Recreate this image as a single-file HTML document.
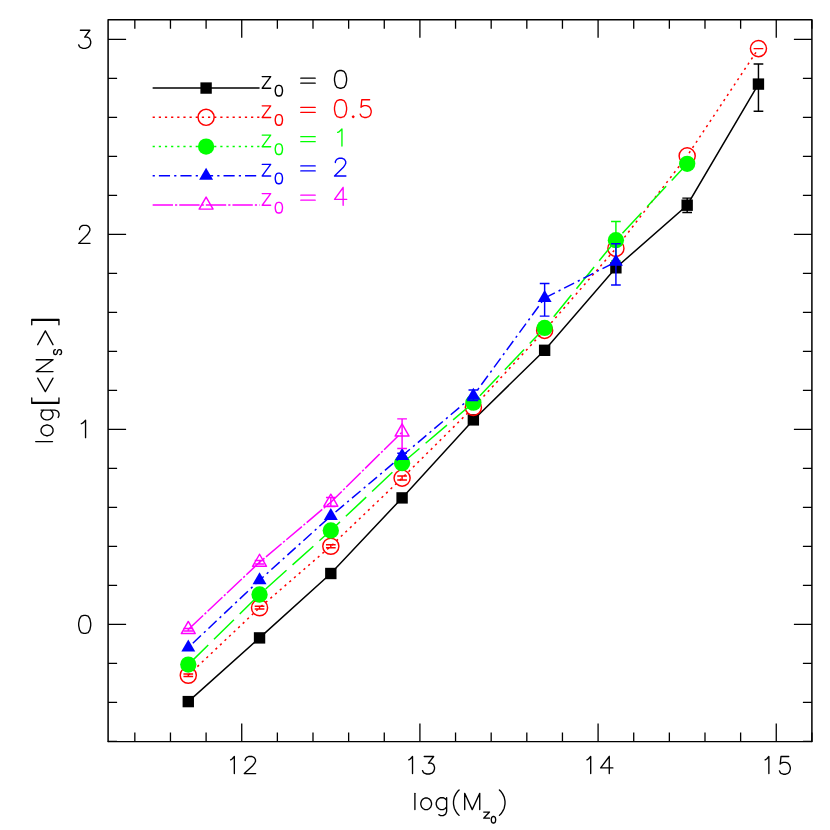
<!DOCTYPE html>
<html><head><meta charset="utf-8"><title>chart</title>
<style>html,body{margin:0;padding:0;background:#fff;font-family:"Liberation Sans",sans-serif}svg{display:block}</style>
</head><body>
<svg width="830" height="830" viewBox="0 0 830 830">
<rect width="830" height="830" fill="#fff"/>
<path d="M108.1 741.4V19.8H811.9V741.4" fill="none" stroke="#000" stroke-width="1.5" stroke-linejoin="round" stroke-linecap="round"/>
<path d="M108.1 741.5H811.9" fill="none" stroke="#000" stroke-width="1.25" stroke-linecap="round"/>
<path d="M134.83 741.4v-9 M134.83 19.8v9M170.46 741.4v-9 M170.46 19.8v9M206.1 741.4v-9 M206.1 19.8v9M241.73 741.4v-18 M241.73 19.8v18M277.37 741.4v-9 M277.37 19.8v9M313 741.4v-9 M313 19.8v9M348.64 741.4v-9 M348.64 19.8v9M384.27 741.4v-9 M384.27 19.8v9M419.91 741.4v-18 M419.91 19.8v18M455.55 741.4v-9 M455.55 19.8v9M491.18 741.4v-9 M491.18 19.8v9M526.82 741.4v-9 M526.82 19.8v9M562.45 741.4v-9 M562.45 19.8v9M598.09 741.4v-18 M598.09 19.8v18M633.72 741.4v-9 M633.72 19.8v9M669.36 741.4v-9 M669.36 19.8v9M704.99 741.4v-9 M704.99 19.8v9M740.63 741.4v-9 M740.63 19.8v9M776.26 741.4v-18 M776.26 19.8v18M811.9 741.4v-9 M811.9 19.8v9M108.1 741.4h9 M811.9 741.4h-9M108.1 702.39h9 M811.9 702.39h-9M108.1 663.39h9 M811.9 663.39h-9M108.1 624.38h18 M811.9 624.38h-18M108.1 585.38h9 M811.9 585.38h-9M108.1 546.37h9 M811.9 546.37h-9M108.1 507.37h9 M811.9 507.37h-9M108.1 468.36h9 M811.9 468.36h-9M108.1 429.36h18 M811.9 429.36h-18M108.1 390.35h9 M811.9 390.35h-9M108.1 351.35h9 M811.9 351.35h-9M108.1 312.34h9 M811.9 312.34h-9M108.1 273.34h9 M811.9 273.34h-9M108.1 234.33h18 M811.9 234.33h-18M108.1 195.32h9 M811.9 195.32h-9M108.1 156.32h9 M811.9 156.32h-9M108.1 117.31h9 M811.9 117.31h-9M108.1 78.31h9 M811.9 78.31h-9M108.1 39.3h18 M811.9 39.3h-18" stroke="#000" stroke-width="1.3" fill="none"/>
<path d="M230.64 759.87 L232.12 759.03 L234.34 756.5 L234.34 773.48" fill="none" stroke="#000" stroke-width="1.35" stroke-linecap="round" stroke-linejoin="round"/>
<path d="M245.17 760.58 L245.17 759.76 L246.03 758.13 L246.89 757.32 L248.61 756.51 L252.05 756.51 L253.77 757.32 L254.63 758.13 L255.49 759.76 L255.49 761.39 L254.63 763.02 L252.91 765.46 L244.31 773.6 L255.66 773.6" fill="none" stroke="#000" stroke-width="1.35" stroke-linecap="round" stroke-linejoin="round"/>
<path d="M408.82 759.87 L410.3 759.03 L412.52 756.5 L412.52 773.48" fill="none" stroke="#000" stroke-width="1.35" stroke-linecap="round" stroke-linejoin="round"/>
<path d="M424.24 756.51 L433.64 756.51 L428.51 763.17 L431.08 763.17 L432.79 764 L433.64 764.84 L434.5 767.34 L434.5 769 L433.64 771.5 L431.93 773.17 L429.37 774 L426.8 774 L424.24 773.17 L423.38 772.33 L422.53 770.67" fill="none" stroke="#000" stroke-width="1.35" stroke-linecap="round" stroke-linejoin="round"/>
<path d="M587 759.87 L588.48 759.03 L590.7 756.5 L590.7 773.48" fill="none" stroke="#000" stroke-width="1.35" stroke-linecap="round" stroke-linejoin="round"/>
<path d="M609.27 756.51 L600.67 767.9 L612.88 767.9M609.27 756.51 L609.27 773.6" fill="none" stroke="#000" stroke-width="1.35" stroke-linecap="round" stroke-linejoin="round"/>
<path d="M765.17 759.87 L766.65 759.03 L768.87 756.5 L768.87 773.48" fill="none" stroke="#000" stroke-width="1.35" stroke-linecap="round" stroke-linejoin="round"/>
<path d="M788.74 756.5 L780.99 756.5 L780.21 764.08 L780.99 763.24 L783.31 762.4 L785.64 762.4 L787.96 763.24 L789.51 764.93 L790.29 767.46 L790.29 769.14 L789.51 771.67 L787.96 773.36 L785.64 774.2 L783.31 774.2 L780.99 773.36 L780.21 772.51 L779.44 770.83" fill="none" stroke="#000" stroke-width="1.35" stroke-linecap="round" stroke-linejoin="round"/>
<path d="M83.84 615.35 L81.26 616.21 L79.54 618.79 L78.68 623.09 L78.68 625.67 L79.54 629.97 L81.26 632.55 L83.84 633.41 L85.56 633.41 L88.14 632.55 L89.86 629.97 L90.72 625.67 L90.72 623.09 L89.86 618.79 L88.14 616.21 L85.56 615.35 L83.84 615.35" fill="none" stroke="#000" stroke-width="1.35" stroke-linecap="round" stroke-linejoin="round"/>
<path d="M81.26 423.77 L82.98 422.91 L85.56 420.33 L85.56 437.66" fill="none" stroke="#000" stroke-width="1.35" stroke-linecap="round" stroke-linejoin="round"/>
<path d="M79.54 229.6 L79.54 228.74 L80.4 227.02 L81.26 226.16 L82.98 225.3 L86.42 225.3 L88.14 226.16 L89 227.02 L89.86 228.74 L89.86 230.46 L89 232.18 L87.28 234.76 L78.68 243.36 L90.03 243.36" fill="none" stroke="#000" stroke-width="1.35" stroke-linecap="round" stroke-linejoin="round"/>
<path d="M80.4 30.27 L89.86 30.27 L84.7 37.15 L87.28 37.15 L89 38.01 L89.86 38.87 L90.72 41.45 L90.72 43.17 L89.86 45.75 L88.14 47.47 L85.56 48.33 L82.98 48.33 L80.4 47.47 L79.54 46.61 L78.68 44.89" fill="none" stroke="#000" stroke-width="1.35" stroke-linecap="round" stroke-linejoin="round"/>
<polyline points="188.28,701.6 259.55,637.9 330.82,573.5 402.09,497.9 473.36,419.9 544.63,350.3 615.91,267.8 687.18,205.2 758.45,84.1" fill="none" stroke="#000" stroke-width="1.5"/>
<rect x="182.59" y="695.91" width="11.38" height="11.38" fill="#000"/>
<rect x="253.86" y="632.21" width="11.38" height="11.38" fill="#000"/>
<rect x="325.13" y="567.81" width="11.38" height="11.38" fill="#000"/>
<rect x="396.4" y="492.21" width="11.38" height="11.38" fill="#000"/>
<rect x="467.67" y="414.21" width="11.38" height="11.38" fill="#000"/>
<rect x="538.94" y="344.61" width="11.38" height="11.38" fill="#000"/>
<rect x="610.21" y="262.11" width="11.38" height="11.38" fill="#000"/>
<rect x="681.48" y="199.51" width="11.38" height="11.38" fill="#000"/>
<rect x="752.75" y="78.41" width="11.38" height="11.38" fill="#000"/>
<path d="M687.18 198.1V212.5 M682.33 198.1h9.7 M682.33 212.5h9.7M758.45 64V111.2 M753.6 64h9.7 M753.6 111.2h9.7" fill="none" stroke="#000" stroke-width="1.45"/>
<polyline points="188.28,675.2 259.55,607.7 330.82,546.2 402.09,478.1 473.36,407.4 544.63,330.4 615.91,248.4 687.18,155.9 758.45,48.6" fill="none" stroke="#f00" stroke-width="1.5" stroke-dasharray="2.2 4.05"/>
<circle cx="188.28" cy="675.2" r="8.05" fill="none" stroke="#f00" stroke-width="1.45"/>
<circle cx="259.55" cy="607.7" r="8.05" fill="none" stroke="#f00" stroke-width="1.45"/>
<circle cx="330.82" cy="546.2" r="8.05" fill="none" stroke="#f00" stroke-width="1.45"/>
<circle cx="402.09" cy="478.1" r="8.05" fill="none" stroke="#f00" stroke-width="1.45"/>
<circle cx="473.36" cy="407.4" r="8.05" fill="none" stroke="#f00" stroke-width="1.45"/>
<circle cx="544.63" cy="330.4" r="8.05" fill="none" stroke="#f00" stroke-width="1.45"/>
<circle cx="615.91" cy="248.4" r="8.05" fill="none" stroke="#f00" stroke-width="1.45"/>
<circle cx="687.18" cy="155.9" r="8.05" fill="none" stroke="#f00" stroke-width="1.45"/>
<circle cx="758.45" cy="48.6" r="8.05" fill="none" stroke="#f00" stroke-width="1.45"/>
<path d="M188.28 673.9V676.5 M183.43 673.9h9.7 M183.43 676.5h9.7M259.55 606.3V609 M254.7 606.3h9.7 M254.7 609h9.7M330.82 544.8V547.8 M325.97 544.8h9.7 M325.97 547.8h9.7M402.09 475.9V480 M397.24 475.9h9.7 M397.24 480h9.7M758.45 48.6V48.6 M753.6 48.6h9.7 M753.6 48.6h9.7" fill="none" stroke="#f00" stroke-width="1.45"/>
<polyline points="188.28,664.6 259.55,594.5 330.82,530.5 402.09,463.2 473.36,402.7 544.63,327.9 615.91,240.2 687.18,163.8" fill="none" stroke="#0f0" stroke-width="1.5" stroke-dasharray="28.0 8.07"/>
<circle cx="188.28" cy="664.6" r="8.15" fill="#0f0"/>
<circle cx="259.55" cy="594.5" r="8.15" fill="#0f0"/>
<circle cx="330.82" cy="530.5" r="8.15" fill="#0f0"/>
<circle cx="402.09" cy="463.2" r="8.15" fill="#0f0"/>
<circle cx="473.36" cy="402.7" r="8.15" fill="#0f0"/>
<circle cx="544.63" cy="327.9" r="8.15" fill="#0f0"/>
<circle cx="615.91" cy="240.2" r="8.15" fill="#0f0"/>
<circle cx="687.18" cy="163.8" r="8.15" fill="#0f0"/>
<path d="M615.91 221.4V261 M611.06 221.4h9.7 M611.06 261h9.7" fill="none" stroke="#0f0" stroke-width="1.45"/>
<polyline points="188.28,647.5 259.55,580.2 330.82,516 402.09,455.9 473.36,395.7 544.63,298.1 615.91,261.8" fill="none" stroke="#00f" stroke-width="1.5" stroke-dasharray="2.2 4.05 11.15 4.14"/>
<polygon points="188.28,639.45 181.31,651.52 195.25,651.52" fill="#00f"/>
<polygon points="259.55,572.15 252.58,584.23 266.52,584.23" fill="#00f"/>
<polygon points="330.82,507.95 323.85,520.02 337.79,520.02" fill="#00f"/>
<polygon points="402.09,447.85 395.12,459.92 409.06,459.92" fill="#00f"/>
<polygon points="473.36,387.65 466.39,399.72 480.33,399.72" fill="#00f"/>
<polygon points="544.63,290.05 537.66,302.12 551.61,302.12" fill="#00f"/>
<polygon points="615.91,253.75 608.93,265.82 622.88,265.82" fill="#00f"/>
<path d="M402.09 453.2V458.6 M397.24 453.2h9.7 M397.24 458.6h9.7M473.36 390V400.4 M468.51 390h9.7 M468.51 400.4h9.7M544.63 283.4V316.1 M539.78 283.4h9.7 M539.78 316.1h9.7M615.91 243.8V285 M611.06 243.8h9.7 M611.06 285h9.7" fill="none" stroke="#00f" stroke-width="1.45"/>
<polyline points="188.28,629.5 259.55,562.3 330.82,502.2 402.09,432" fill="none" stroke="#f0f" stroke-width="1.5" stroke-dasharray="20.35 2.05 2.2 2.0"/>
<polygon points="188.28,621.45 181.31,633.52 195.25,633.52" fill="none" stroke="#f0f" stroke-width="1.45" stroke-linejoin="round"/>
<polygon points="259.55,554.25 252.58,566.32 266.52,566.32" fill="none" stroke="#f0f" stroke-width="1.45" stroke-linejoin="round"/>
<polygon points="330.82,494.15 323.85,506.22 337.79,506.22" fill="none" stroke="#f0f" stroke-width="1.45" stroke-linejoin="round"/>
<polygon points="402.09,423.95 395.12,436.02 409.06,436.02" fill="none" stroke="#f0f" stroke-width="1.45" stroke-linejoin="round"/>
<path d="M188.28 628.4V631 M183.43 628.4h9.7 M183.43 631h9.7M259.55 560.5V564 M254.7 560.5h9.7 M254.7 564h9.7M330.82 497.5V506.5 M325.97 497.5h9.7 M325.97 506.5h9.7M402.09 418.85V448.4 M397.24 418.85h9.7 M397.24 448.4h9.7" fill="none" stroke="#f0f" stroke-width="1.45"/>
<path d="M152.64 88.06H259.55" fill="none" stroke="#000" stroke-width="1.5"/>
<rect x="200.41" y="82.37" width="11.38" height="11.38" fill="#000"/>
<path d="M270.67 76.59 L262.2 88.21M262.2 76.59 L270.67 76.59M262.2 88.21 L270.67 88.21" fill="none" stroke="#000" stroke-width="1.35" stroke-linecap="round" stroke-linejoin="round"/>
<path d="M278.35 85.36 L276.8 85.87 L275.77 87.39 L275.25 89.93 L275.25 91.45 L275.77 93.98 L276.8 95.5 L278.35 96.01 L279.38 96.01 L280.93 95.5 L281.96 93.98 L282.47 91.45 L282.47 89.93 L281.96 87.39 L280.93 85.87 L279.38 85.36 L278.35 85.36" fill="none" stroke="#000" stroke-width="1.4" stroke-linecap="round" stroke-linejoin="round"/>
<path d="M300.8 78.13 L315.2 78.13M300.8 83.17 L315.2 83.17" fill="none" stroke="#000" stroke-width="1.35" stroke-linecap="round" stroke-linejoin="round"/>
<path d="M339.68 70.51 L337.09 71.35 L335.36 73.88 L334.5 78.09 L334.5 80.62 L335.36 84.84 L337.09 87.37 L339.68 88.21 L341.41 88.21 L344 87.37 L345.73 84.84 L346.6 80.62 L346.6 78.09 L345.73 73.88 L344 71.35 L341.41 70.51 L339.68 70.51" fill="none" stroke="#000" stroke-width="1.35" stroke-linecap="round" stroke-linejoin="round"/>
<path d="M152.64 117.31H259.55" fill="none" stroke="#f00" stroke-width="1.5" stroke-dasharray="2.2 3.95"/>
<circle cx="206.1" cy="117.31" r="8.05" fill="none" stroke="#f00" stroke-width="1.45"/>
<path d="M270.67 105.84 L262.2 117.46M262.2 105.84 L270.67 105.84M262.2 117.46 L270.67 117.46" fill="none" stroke="#f00" stroke-width="1.35" stroke-linecap="round" stroke-linejoin="round"/>
<path d="M278.35 114.62 L276.8 115.12 L275.77 116.64 L275.25 119.18 L275.25 120.7 L275.77 123.24 L276.8 124.76 L278.35 125.26 L279.38 125.26 L280.93 124.76 L281.96 123.24 L282.47 120.7 L282.47 119.18 L281.96 116.64 L280.93 115.12 L279.38 114.62 L278.35 114.62" fill="none" stroke="#f00" stroke-width="1.4" stroke-linecap="round" stroke-linejoin="round"/>
<path d="M300.8 107.38 L315.2 107.38M300.8 112.42 L315.2 112.42" fill="none" stroke="#f00" stroke-width="1.35" stroke-linecap="round" stroke-linejoin="round"/>
<path d="M339.68 99.76 L337.09 100.6 L335.36 103.13 L334.5 107.35 L334.5 109.88 L335.36 114.09 L337.09 116.62 L339.68 117.46 L341.41 117.46 L344 116.62 L345.73 114.09 L346.6 109.88 L346.6 107.35 L345.73 103.13 L344 100.6 L341.41 99.76 L339.68 99.76" fill="none" stroke="#f00" stroke-width="1.35" stroke-linecap="round" stroke-linejoin="round"/>
<path d="M353.2 115.86 L352.4 116.66 L353.2 117.46 L354 116.66 L353.2 115.86" fill="none" stroke="#f00" stroke-width="1.35" stroke-linecap="round" stroke-linejoin="round"/>
<path d="M369.63 99.76 L361.77 99.76 L360.99 107.35 L361.77 106.5 L364.13 105.66 L366.49 105.66 L368.85 106.5 L370.42 108.19 L371.2 110.72 L371.2 112.41 L370.42 114.93 L368.85 116.62 L366.49 117.46 L364.13 117.46 L361.77 116.62 L360.99 115.78 L360.2 114.09" fill="none" stroke="#f00" stroke-width="1.35" stroke-linecap="round" stroke-linejoin="round"/>
<path d="M152.64 146.57H259.55" fill="none" stroke="#0f0" stroke-width="1.5" stroke-dasharray="2.2 3.95"/>
<circle cx="206.1" cy="146.57" r="8.15" fill="#0f0"/>
<path d="M270.67 135.1 L262.2 146.72M262.2 135.1 L270.67 135.1M262.2 146.72 L270.67 146.72" fill="none" stroke="#0f0" stroke-width="1.35" stroke-linecap="round" stroke-linejoin="round"/>
<path d="M278.35 143.87 L276.8 144.38 L275.77 145.9 L275.25 148.43 L275.25 149.95 L275.77 152.49 L276.8 154.01 L278.35 154.52 L279.38 154.52 L280.93 154.01 L281.96 152.49 L282.47 149.95 L282.47 148.43 L281.96 145.9 L280.93 144.38 L279.38 143.87 L278.35 143.87" fill="none" stroke="#0f0" stroke-width="1.4" stroke-linecap="round" stroke-linejoin="round"/>
<path d="M300.8 136.64 L315.2 136.64M300.8 141.68 L315.2 141.68" fill="none" stroke="#0f0" stroke-width="1.35" stroke-linecap="round" stroke-linejoin="round"/>
<path d="M337.7 132.39 L339.4 131.54 L341.95 129.01 L341.95 146" fill="none" stroke="#0f0" stroke-width="1.35" stroke-linecap="round" stroke-linejoin="round"/>
<path d="M152.64 175.82H259.55" fill="none" stroke="#00f" stroke-width="1.5" stroke-dasharray="2.2 4.05 11.15 4.14"/>
<polygon points="206.1,167.77 199.13,179.85 213.07,179.85" fill="#00f"/>
<path d="M270.67 164.35 L262.2 175.97M262.2 164.35 L270.67 164.35M262.2 175.97 L270.67 175.97" fill="none" stroke="#00f" stroke-width="1.35" stroke-linecap="round" stroke-linejoin="round"/>
<path d="M278.35 173.12 L276.8 173.63 L275.77 175.15 L275.25 177.69 L275.25 179.21 L275.77 181.74 L276.8 183.26 L278.35 183.77 L279.38 183.77 L280.93 183.26 L281.96 181.74 L282.47 179.21 L282.47 177.69 L281.96 175.15 L280.93 173.63 L279.38 173.12 L278.35 173.12" fill="none" stroke="#00f" stroke-width="1.4" stroke-linecap="round" stroke-linejoin="round"/>
<path d="M300.8 165.89 L315.2 165.89M300.8 170.93 L315.2 170.93" fill="none" stroke="#00f" stroke-width="1.35" stroke-linecap="round" stroke-linejoin="round"/>
<path d="M335.36 162.48 L335.36 161.64 L336.23 159.95 L337.09 159.11 L338.82 158.27 L342.28 158.27 L344 159.11 L344.87 159.95 L345.73 161.64 L345.73 163.33 L344.87 165.01 L343.14 167.54 L334.5 175.97 L345.9 175.97" fill="none" stroke="#00f" stroke-width="1.35" stroke-linecap="round" stroke-linejoin="round"/>
<path d="M152.64 205.08H259.55" fill="none" stroke="#f0f" stroke-width="1.5" stroke-dasharray="20.35 2.05 2.2 2.0"/>
<polygon points="206.1,197.03 199.13,209.1 213.07,209.1" fill="none" stroke="#f0f" stroke-width="1.45" stroke-linejoin="round"/>
<path d="M270.67 193.61 L262.2 205.23M262.2 193.61 L270.67 193.61M262.2 205.23 L270.67 205.23" fill="none" stroke="#f0f" stroke-width="1.35" stroke-linecap="round" stroke-linejoin="round"/>
<path d="M278.35 202.38 L276.8 202.89 L275.77 204.41 L275.25 206.94 L275.25 208.46 L275.77 211 L276.8 212.52 L278.35 213.03 L279.38 213.03 L280.93 212.52 L281.96 211 L282.47 208.46 L282.47 206.94 L281.96 204.41 L280.93 202.89 L279.38 202.38 L278.35 202.38" fill="none" stroke="#f0f" stroke-width="1.4" stroke-linecap="round" stroke-linejoin="round"/>
<path d="M300.8 195.15 L315.2 195.15M300.8 200.19 L315.2 200.19" fill="none" stroke="#f0f" stroke-width="1.35" stroke-linecap="round" stroke-linejoin="round"/>
<path d="M343.14 187.52 L334.5 199.32 L346.77 199.32M343.14 187.52 L343.14 205.23" fill="none" stroke="#f0f" stroke-width="1.35" stroke-linecap="round" stroke-linejoin="round"/>
<path d="M414.9 793.33 L414.9 809.6" fill="none" stroke="#000" stroke-width="1.35" stroke-linecap="round" stroke-linejoin="round"/>
<path d="M424.93 797.98 L423.28 798.81 L421.62 800.47 L420.8 802.96 L420.8 804.62 L421.62 807.11 L423.28 808.77 L424.93 809.6 L427.4 809.6 L429.05 808.77 L430.7 807.11 L431.53 804.62 L431.53 802.96 L430.7 800.47 L429.05 798.81 L427.4 797.98 L424.93 797.98" fill="none" stroke="#000" stroke-width="1.35" stroke-linecap="round" stroke-linejoin="round"/>
<path d="M446.64 797.7 L446.64 811.3 L445.77 813.85 L444.9 814.7 L443.16 815.55 L440.55 815.55 L438.81 814.7M446.64 800.25 L444.9 798.55 L443.16 797.7 L440.55 797.7 L438.81 798.55 L437.07 800.25 L436.2 802.8 L436.2 804.5 L437.07 807.05 L438.81 808.75 L440.55 809.6 L443.16 809.6 L444.9 808.75 L446.64 807.05" fill="none" stroke="#000" stroke-width="1.35" stroke-linecap="round" stroke-linejoin="round"/>
<path d="M459.1 789.93 L457.5 791.52 L455.9 793.9 L454.3 797.08 L453.5 801.06 L453.5 804.24 L454.3 808.21 L455.9 811.39 L457.5 813.78 L459.1 815.37" fill="none" stroke="#000" stroke-width="1.35" stroke-linecap="round" stroke-linejoin="round"/>
<path d="M464.7 793.33 L464.7 809.6M464.7 793.33 L472.22 809.6M479.74 793.33 L472.22 809.6M479.74 793.33 L479.74 809.6" fill="none" stroke="#000" stroke-width="1.35" stroke-linecap="round" stroke-linejoin="round"/>
<path d="M489.53 812.04 L483.7 818.2M483.7 812.04 L489.53 812.04M483.7 818.2 L489.53 818.2" fill="none" stroke="#000" stroke-width="1.25" stroke-linecap="round" stroke-linejoin="round"/>
<path d="M493.16 816.49 L492.23 816.8 L491.61 817.73 L491.3 819.28 L491.3 820.21 L491.61 821.76 L492.23 822.69 L493.16 823 L493.78 823 L494.71 822.69 L495.33 821.76 L495.64 820.21 L495.64 819.28 L495.33 817.73 L494.71 816.8 L493.78 816.49 L493.16 816.49" fill="none" stroke="#000" stroke-width="1.35" stroke-linecap="round" stroke-linejoin="round"/>
<path d="M499.4 789.93 L501 791.52 L502.6 793.9 L504.2 797.08 L505 801.06 L505 804.24 L504.2 808.21 L502.6 811.39 L501 813.78 L499.4 815.37" fill="none" stroke="#000" stroke-width="1.35" stroke-linecap="round" stroke-linejoin="round"/>
<path d="M35.7 441.6 L52.5 441.6" fill="none" stroke="#000" stroke-width="1.35" stroke-linecap="round" stroke-linejoin="round"/>
<path d="M41.1 431.6 L41.95 433.24 L43.65 434.88 L46.2 435.7 L47.9 435.7 L50.45 434.88 L52.15 433.24 L53 431.6 L53 429.14 L52.15 427.5 L50.45 425.86 L47.9 425.04 L46.2 425.04 L43.65 425.86 L41.95 427.5 L41.1 429.14 L41.1 431.6" fill="none" stroke="#000" stroke-width="1.35" stroke-linecap="round" stroke-linejoin="round"/>
<path d="M41.1 410.06 L54.7 410.06 L57.25 410.88 L58.1 411.7 L58.95 413.34 L58.95 415.8 L58.1 417.44M43.65 410.06 L41.95 411.7 L41.1 413.34 L41.1 415.8 L41.95 417.44 L43.65 419.08 L46.2 419.9 L47.9 419.9 L50.45 419.08 L52.15 417.44 L53 415.8 L53 413.34 L52.15 411.7 L50.45 410.06" fill="none" stroke="#000" stroke-width="1.35" stroke-linecap="round" stroke-linejoin="round"/>
<path d="M31.75 403.2 L58.95 403.2M31.75 402.44 L58.95 402.44M31.75 403.2 L31.75 397.88M58.95 403.2 L58.95 397.88" fill="none" stroke="#000" stroke-width="1.35" stroke-linecap="round" stroke-linejoin="round"/>
<path d="M37.7 378.16 L45.35 391.6 L53 378.16" fill="none" stroke="#000" stroke-width="1.35" stroke-linecap="round" stroke-linejoin="round"/>
<path d="M36.2 371.6 L53 371.6M36.2 371.6 L53 359.7M36.2 359.7 L53 359.7" fill="none" stroke="#000" stroke-width="1.35" stroke-linecap="round" stroke-linejoin="round"/>
<path d="M55.34 349.65 L54.22 350.1 L53.66 351.45 L53.66 352.8 L54.22 354.15 L55.34 354.6 L56.46 354.15 L57.02 353.25 L57.58 351 L58.14 350.1 L59.26 349.65 L59.82 349.65 L60.94 350.1 L61.5 351.45 L61.5 352.8 L60.94 354.15 L59.82 354.6" fill="none" stroke="#000" stroke-width="1.4" stroke-linecap="round" stroke-linejoin="round"/>
<path d="M37.7 344.7 L45.35 330.86 L53 344.7" fill="none" stroke="#000" stroke-width="1.35" stroke-linecap="round" stroke-linejoin="round"/>
<path d="M31.75 320.24 L58.95 320.24M31.75 319.48 L58.95 319.48M31.75 324.8 L31.75 319.48M58.95 324.8 L58.95 319.48" fill="none" stroke="#000" stroke-width="1.35" stroke-linecap="round" stroke-linejoin="round"/>
</svg>
</body></html>
